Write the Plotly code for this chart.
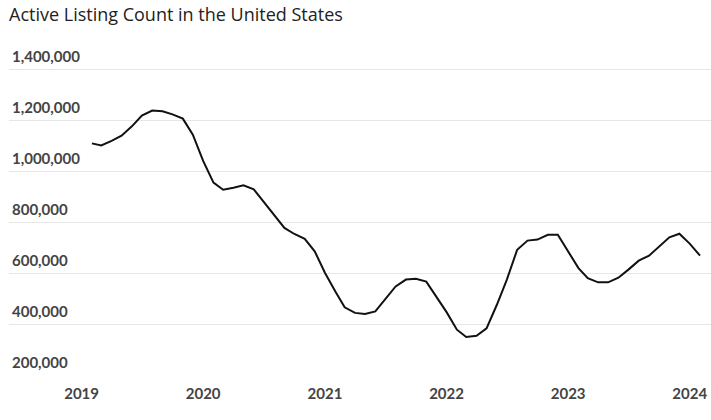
import pandas as pd
import plotly.graph_objects as go

title_text = "Active Listing Count in the United States"

months = pd.date_range("2019-02-01", periods=61, freq="MS")

active_listings = [
    1110000, 1102000, 1120000, 1140000, 1177000, 1219000, 1239000, 1236000,
    1224000, 1207000, 1144000, 1041000, 956000, 928000, 936000, 945000,
    929000, 880000, 830000, 778000, 754000, 735000, 686000, 601000,
    528000, 466000, 444000, 440000, 450000, 496000, 548000, 575000,
    578000, 567000, 509000, 447000, 378000, 349000, 354000, 383000,
    476000, 575000, 692000, 728000, 732000, 751000, 751000, 686000,
    620000, 580000, 564000, 564000, 582000, 614000, 649000, 669000,
    705000, 741000, 755000, 716000, 669000,
]

y_ticks = [200000, 400000, 600000, 800000, 1000000, 1200000, 1400000]
y_tick_labels = [f"{v:,}" for v in y_ticks]

x_ticks = pd.to_datetime(["2019-01-01", "2020-01-01", "2021-01-01",
                          "2022-01-01", "2023-01-01", "2024-01-01"])
x_tick_labels = ["2019", "2020", "2021", "2022", "2023", "2024"]

fig = go.Figure()
fig.add_trace(go.Scatter(
    x=months, y=active_listings, mode="lines",
    line=dict(color="#111111", width=2),
    hoverinfo="skip", showlegend=False,
))

fig.update_layout(
    width=711, height=420,
    margin=dict(l=9, r=0, t=39, b=45),
    paper_bgcolor="white", plot_bgcolor="white",
    title=dict(text=title_text, x=0, xref="paper", xanchor="left",
               y=1, yref="container", yanchor="top", pad=dict(t=8, l=0),
               font=dict(family="Open Sans", size=18, color="#222222")),
    font=dict(family="Lato", color="#444444"),
    hovermode=False,
)

fig.update_xaxes(
    range=[pd.Timestamp("2018-05-28"), pd.Timestamp("2024-03-05")],
    tickvals=x_ticks, ticktext=x_tick_labels,
    showgrid=False, zeroline=False, showline=False, ticks="",
    tickfont=dict(family="Lato", size=15, color="#444444", weight="bold"),
    ticklabelstandoff=8,
)

fig.update_yaxes(
    range=[200000, 1520000],
    tickvals=y_ticks, ticktext=y_tick_labels,
    ticklabelposition="inside top",
    ticklabelshift=-2,
    showgrid=True, gridcolor="#e6e6e6", gridwidth=1,
    zeroline=False, showline=False, ticks="",
    tickfont=dict(family="Lato", size=15, color="#444444", weight="bold"),
)

fig.write_html(
    "out.html",
    config={"displayModeBar": False, "staticPlot": True},
    post_script="document.body.style.margin='0';document.body.style.overflow='hidden';",
)
